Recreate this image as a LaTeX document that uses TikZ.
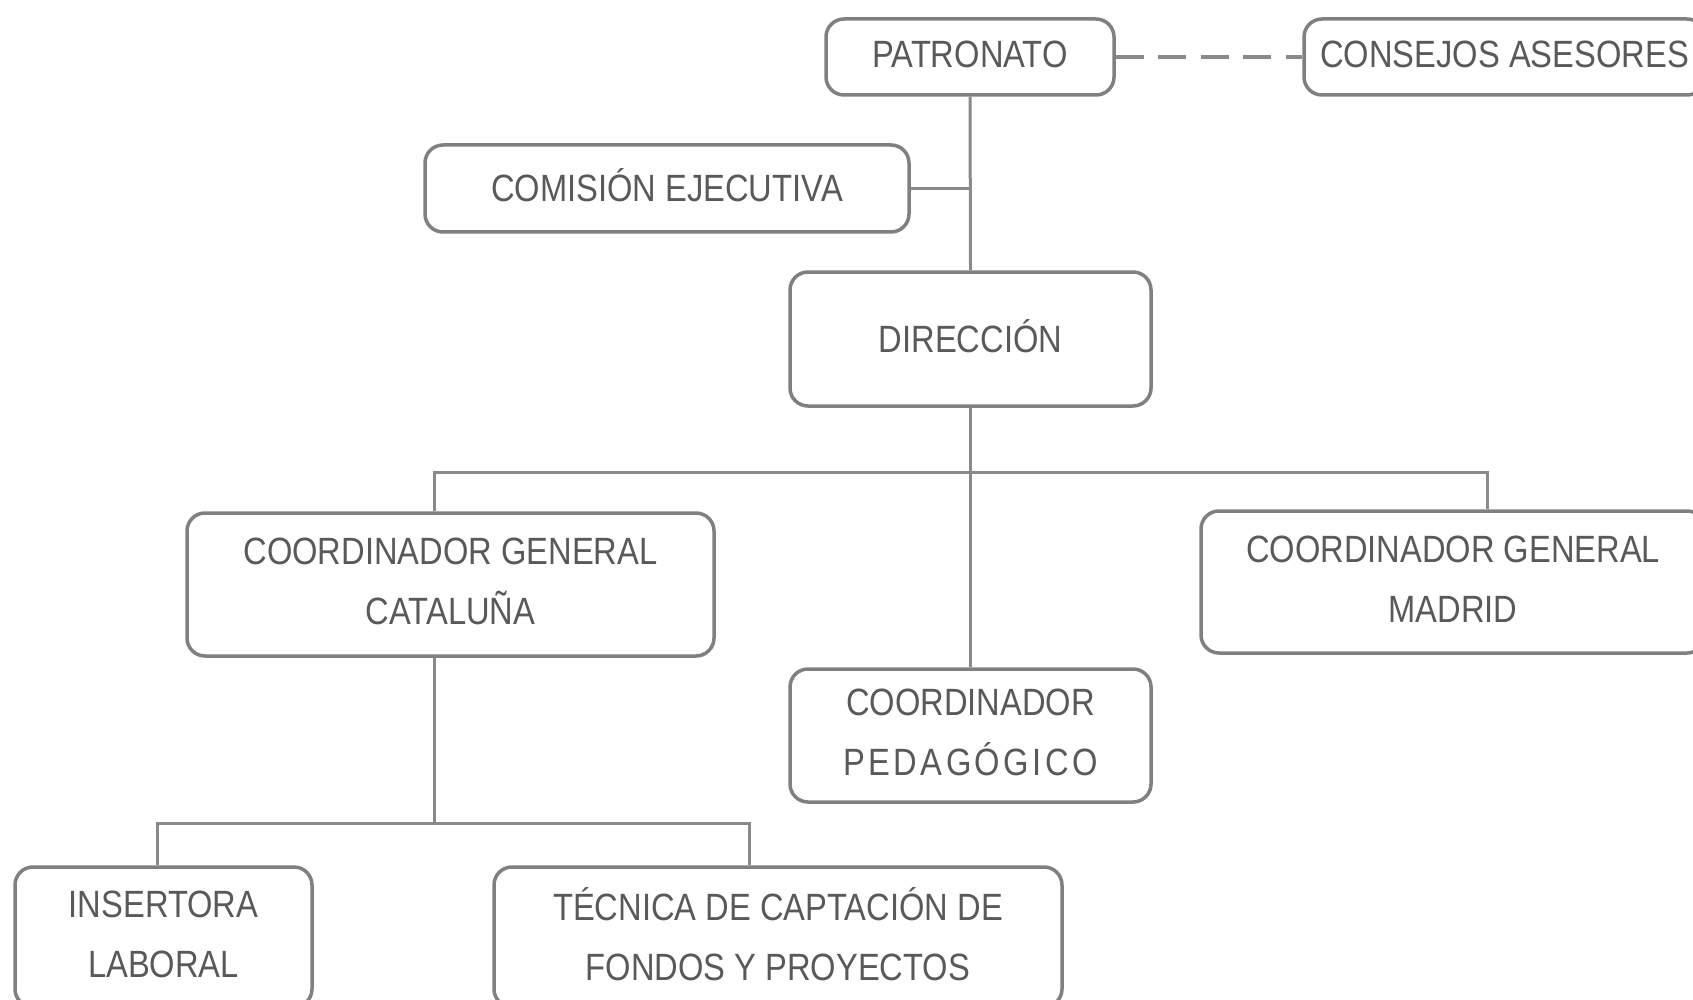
\documentclass[tikz,border=0pt]{standalone}
\usepackage{fontspec}
\setmainfont[FakeStretch=0.86]{Liberation Sans}
\definecolor{linegray}{HTML}{808082}
\definecolor{conngray}{HTML}{8A8A8C}
\definecolor{textgray}{HTML}{595959}
\begin{document}
\begin{tikzpicture}[x=1pt,y=-1pt,
  box/.style={draw=linegray, line width=3.5pt, rounded corners=18pt, align=center,
    text=textgray, font=\fontsize{38}{60}\selectfont, inner sep=0pt, text depth=6pt},
  conn/.style={draw=conngray, line width=3pt}]
\clip (0,0) rectangle (1693,1000);
\fill[white] (0,0) rectangle (1693,1000);
\node[box, minimum width=288pt, minimum height=76pt] (pat) at (970,57) {PATRONATO};
\node[box, minimum width=401pt, minimum height=76pt] (cons) at (1504.5,57) {CONSEJOS ASESORES};
\node[box, minimum width=484pt, minimum height=87pt] (com) at (667,188.5) {COMISIÓN EJECUTIVA};
\node[box, minimum width=361pt, minimum height=134pt] (dir) at (970.5,339) {DIRECCIÓN};
\node[box, minimum width=527pt, minimum height=143pt] (cat) at (450.5,584.5) {COORDINADOR GENERAL\\CATALUÑA};
\node[box, minimum width=504pt, minimum height=142pt] (mad) at (1453,582) {COORDINADOR GENERAL\\MADRID};
\node[box, minimum width=361pt, minimum height=133pt] (ped) at (970.5,735.5) {COORDINADOR\\{\addfontfeature{LetterSpace=9}PEDAGÓGICO}};
\node[box, minimum width=297pt, minimum height=140pt] (ins) at (163.5,937) {INSERTORA\\LABORAL};
\node[box, minimum width=568pt, minimum height=140pt] (tec) at (778,937) {TÉCNICA DE CAPTACIÓN DE\\FONDOS Y PROYECTOS};

\coordinate (bus1) at (970,472);
\coordinate (bus1L) at (434,472);
\coordinate (bus1R) at (1487,472);
\coordinate (bus2) at (434,823);
\coordinate (bus2L) at (157,823);
\coordinate (bus2R) at (749,823);

\draw[conn, line width=4pt, dash pattern=on 28pt off 14.5pt] (pat.east) -- (cons.west);
\draw[conn] (pat.south) -- (dir.north);
\draw[conn] (com.east) -- (pat.south |- com.east);
\draw[conn] (dir.south) -- (ped.north);
\draw[conn] (bus1L |- cat.north) -- (bus1L) -- (bus1R) -- (bus1R |- mad.north);
\draw[conn] (bus2 |- cat.south) -- (bus2);
\draw[conn] (bus2L |- ins.north) -- (bus2L) -- (bus2R) -- (bus2R |- tec.north);
\end{tikzpicture}
\end{document}
